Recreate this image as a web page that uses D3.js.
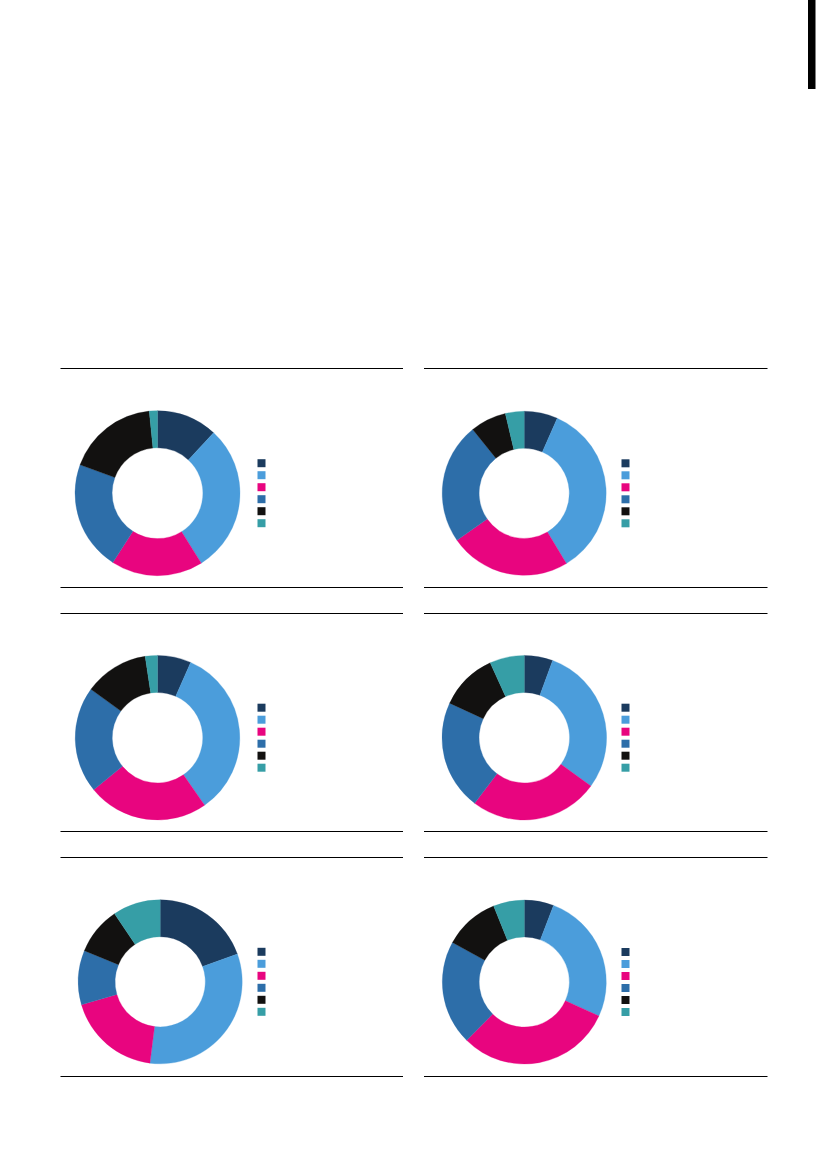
<!DOCTYPE html>
<html>
<head>
<meta charset="utf-8">
<script src="https://cdn.jsdelivr.net/npm/d3@7/dist/d3.min.js"></script>
<style>
  html, body { margin: 0; padding: 0; background: #ffffff; }
  svg { display: block; }
</style>
</head>
<body>
<svg id="chart" width="826" height="1169"></svg>
<script>
// ---- data (percent shares, clockwise from 12 o'clock) ----
const categories = ["A", "B", "C", "D", "E", "F"];
const panel1 = [11.9, 29.2, 18.0, 21.5, 17.8, 1.6];
const panel2 = [6.6, 34.8, 23.9, 23.9, 7.1, 3.7];
const panel3 = [6.6, 33.7, 23.8, 20.9, 12.6, 2.4];
const panel4 = [5.6, 29.4, 25.3, 21.6, 11.3, 6.8];
const panel5 = [19.5, 32.5, 18.5, 10.7, 9.4, 9.4];
const panel6 = [5.8, 26.0, 30.6, 20.6, 10.9, 6.1];
const seriesList = [panel1, panel2, panel3, panel4, panel5, panel6];

// ---- styles / layout ----
const colors = ["#1b3b5e", "#4b9ddb", "#e8057f", "#2d6ea9", "#121110", "#369ea6"];
const layout = [
  { cx: 157.5, cy: 493.2, r: 82.5, top: 368.5, bottom: 587.5, x0: 60.5, x1: 403, lx: 257.5 },
  { cx: 524.2, cy: 493.3, r: 82.0, top: 368.5, bottom: 587.5, x0: 424, x1: 767.5, lx: 621.5 },
  { cx: 157.5, cy: 737.7, r: 82.3, top: 613.5, bottom: 831.5, x0: 60.5, x1: 403, lx: 257.5 },
  { cx: 524.3, cy: 737.7, r: 82.3, top: 613.5, bottom: 831.5, x0: 424, x1: 767.5, lx: 621.5 },
  { cx: 160.2, cy: 981.8, r: 82.0, top: 857.5, bottom: 1076.5, x0: 60.5, x1: 403, lx: 257.5 },
  { cx: 524.3, cy: 982.0, r: 82.0, top: 857.5, bottom: 1076.5, x0: 424, x1: 767.5, lx: 621.5 }
];
const innerRatio = 0.55;
const sq = 8, sqStep = 12;

const svg = d3.select("#chart");
const color = d3.scaleOrdinal().domain(categories).range(colors);
const pie = d3.pie().sort(null).value(d => d.v).startAngle(0).endAngle(2 * Math.PI);

// decorative black bar at top right
svg.append("rect").attr("x", 808).attr("y", 0).attr("width", 7.5).attr("height", 89).attr("fill", "#000");

seriesList.forEach((vals, i) => {
  const L = layout[i];
  const g = svg.append("g");
  // rules
  [L.top, L.bottom].forEach(y => {
    g.append("line")
      .attr("x1", L.x0).attr("x2", L.x1)
      .attr("y1", y).attr("y2", y)
      .attr("stroke", "#000").attr("stroke-width", 1.2);
  });
  const data = categories.map((c, k) => ({ c, v: vals[k] }));
  const arc = d3.arc().innerRadius(L.r * innerRatio).outerRadius(L.r);
  g.append("g")
    .attr("transform", `translate(${L.cx},${L.cy})`)
    .selectAll("path")
    .data(pie(data))
    .join("path")
    .attr("d", arc)
    .attr("fill", d => color(d.data.c))
    .attr("stroke", d => color(d.data.c))
    .attr("stroke-width", 0.3);
  // legend squares
  const ly0 = L.cy - (categories.length * sqStep - (sqStep - sq)) / 2;
  g.selectAll("rect.leg")
    .data(categories)
    .join("rect")
    .attr("class", "leg")
    .attr("x", L.lx)
    .attr("y", (c, k) => ly0 + k * sqStep)
    .attr("width", sq).attr("height", sq)
    .attr("fill", c => color(c));
});
</script>
</body>
</html>
